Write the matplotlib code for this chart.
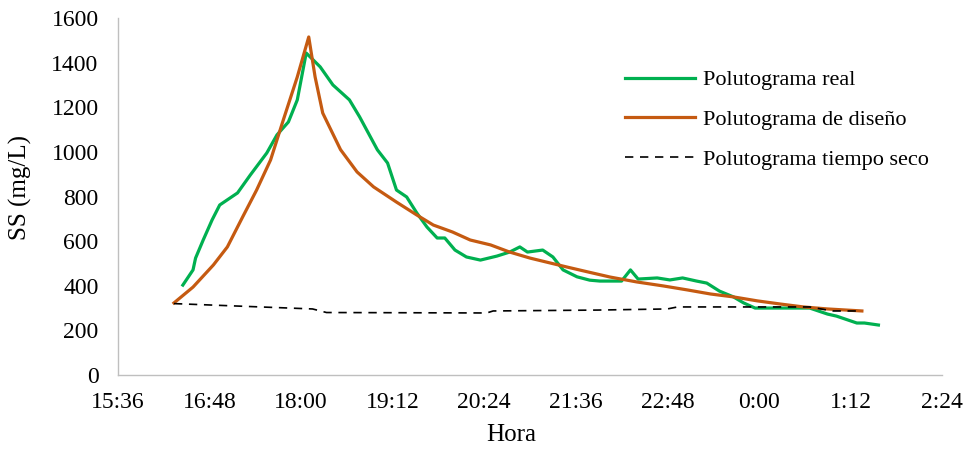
import matplotlib
matplotlib.use("Agg")
import matplotlib.pyplot as plt
from matplotlib.ticker import FixedLocator

plt.rcParams['font.family'] = ['Liberation Serif', 'DejaVu Serif']

# --- data (times as HH:MM, values in mg/L) ---
real_times = ["16:27", "16:35", "16:37", "16:43", "16:50", "16:56", "17:10", "17:20", "17:33",
              "17:41", "17:50", "17:57", "18:04", "18:15", "18:25", "18:38", "18:46", "19:00",
              "19:08", "19:15", "19:23", "19:31", "19:39", "19:47", "19:53", "20:01", "20:10",
              "20:21", "20:34", "20:44", "20:52", "20:58", "21:10", "21:18", "21:26", "21:37",
              "21:47", "21:55", "22:12", "22:19", "22:25", "22:40", "22:50", "23:00", "23:11",
              "23:19", "23:29", "23:40", "23:48", "23:57", "0:30", "0:40", "0:54", "1:01",
              "1:17", "1:23", "1:34"]
real_vals = [403, 471, 524, 605, 695, 762, 816, 896, 995,
             1076, 1134, 1233, 1443, 1381, 1300, 1233, 1157, 1009,
             950, 829, 798, 726, 663, 614, 614, 560, 529,
             515, 533, 551, 574, 551, 560, 529, 471, 440,
             425, 421, 421, 471, 430, 435, 426, 435, 421,
             412, 376, 350, 323, 300, 300, 300, 273, 264,
             233, 233, 224]

design_times = ["16:20", "16:35", "16:51", "17:02", "17:14", "17:25", "17:36", "17:46", "17:57",
                "18:06", "18:11", "18:17", "18:31", "18:44", "18:57", "19:15", "19:31", "19:44",
                "19:59", "20:13", "20:29", "20:44", "21:00", "21:13", "21:29", "21:47", "22:03",
                "22:24", "22:45", "23:04", "23:22", "23:40", "23:59", "0:17", "0:35", "0:54", "1:21"]
design_vals = [323, 394, 493, 574, 708, 829, 964, 1143, 1336,
               1515, 1336, 1174, 1010, 910, 843, 775, 717, 672,
               641, 605, 583, 551, 524, 506, 484, 460, 439,
               417, 399, 381, 363, 350, 332, 318, 305, 296, 287]

dry_times = ["16:20", "17:10", "18:09", "18:20", "20:26", "20:31", "21:53", "22:48", "22:56",
             "0:40", "0:58", "1:21"]
dry_vals = [320, 309, 296, 280, 278, 287, 291, 296, 305, 305, 287, 287]

xtick_labels = ["15:36", "16:48", "18:00", "19:12", "20:24", "21:36", "22:48", "0:00", "1:12", "2:24"]
yticks = [0, 200, 400, 600, 800, 1000, 1200, 1400, 1600]


def to_hours(t):
    h, m = t.split(":")
    h = int(h)
    if h < 12:
        h += 24
    return h + int(m) / 60.0


fig = plt.figure(figsize=(9.70, 4.51), dpi=100)
ax = fig.add_axes([118 / 970, 1 - 375 / 451, 824 / 970, 357 / 451])

ax.plot([to_hours(t) for t in real_times], real_vals, color="#00B050", lw=2.3,
        label="Polutograma real", solid_joinstyle="round")
ax.plot([to_hours(t) for t in design_times], design_vals, color="#C55A11", lw=2.3,
        label="Polutograma de diseño", solid_joinstyle="round")
ax.plot([to_hours(t) for t in dry_times], dry_vals, color="black", lw=1.2,
        ls=(0, (5, 4)), label="Polutograma tiempo seco")

xt = [to_hours(t) for t in xtick_labels]
ax.set_xlim(xt[0], xt[-1])
ax.set_ylim(0, 1600)
ax.xaxis.set_major_locator(FixedLocator(xt))
ax.set_xticklabels(xtick_labels)
ax.set_yticks(yticks)

for s in ["top", "right"]:
    ax.spines[s].set_visible(False)
for s in ["left", "bottom"]:
    ax.spines[s].set_color("#BFBFBF")
    ax.spines[s].set_linewidth(1.0)

ax.tick_params(axis="both", length=0, labelsize=17)
ax.tick_params(axis="y", pad=14)
ax.tick_params(axis="x", pad=12)

ax.set_xlabel("Hora", fontsize=18)
ax.set_ylabel("SS (mg/L)", fontsize=18)
ax.xaxis.set_label_coords((511 - 118) / 824, -(435 - 375) / 357)
ax.xaxis.label.set_va("center")
ax.yaxis.set_label_coords(-(118 - 20) / 824, (375 - 188) / 357)
ax.yaxis.label.set_va("center")

leg = ax.legend(loc="upper left", bbox_to_anchor=(0.615, 0.855), frameon=False,
                fontsize=16, handlelength=3.15, handletextpad=0.35, labelspacing=0.86,
                borderpad=0, borderaxespad=0)

fig.savefig("out.png", dpi=100)
